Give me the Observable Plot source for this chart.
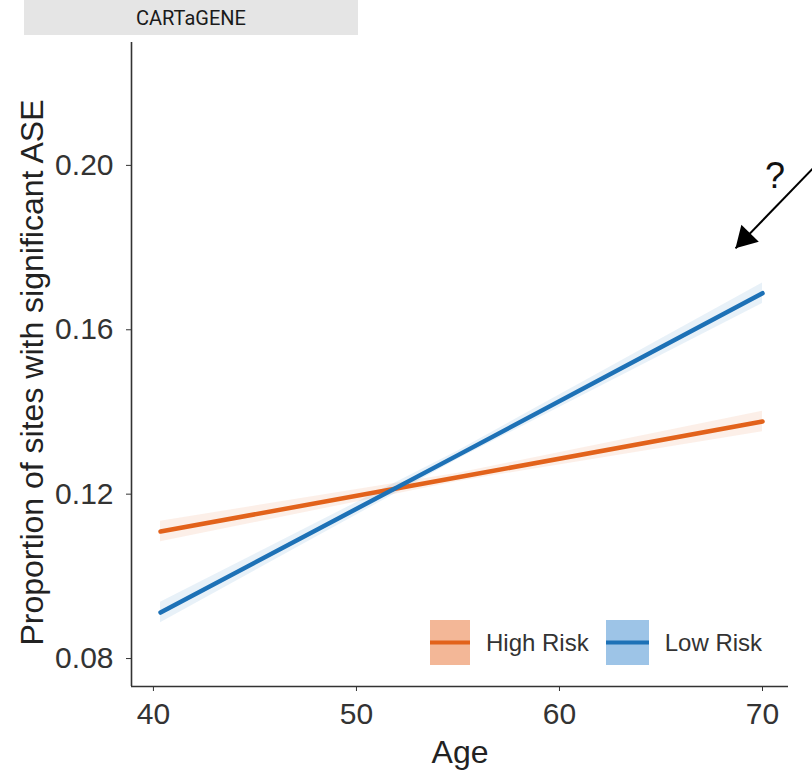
<!DOCTYPE html>
<html>
<head>
<meta charset="utf-8">
<script src="https://cdn.jsdelivr.net/npm/d3@7"></script>
<script src="https://cdn.jsdelivr.net/npm/@observablehq/plot@0.6"></script>
<style>
  body { margin: 0; background: #fff; }
  #wrap { position: relative; width: 812px; height: 770px; overflow: hidden; font-family: "Liberation Sans", Arial, sans-serif; }
  #strip { position: absolute; left: 24px; top: 0; width: 334px; height: 35px; background: #e5e5e5;
           font-family: Roboto, "Liberation Sans", sans-serif; font-size: 20px; color: #1a1a1a;
           display: flex; align-items: center; justify-content: center; }
  #chart { position: absolute; left: 0; top: 40px; }
  #legend { position: absolute; left: 430px; top: 620px; display: flex; align-items: center; font-size: 24px; color: #333; }
  #legend .item { display: flex; align-items: center; margin-right: 17px; }
  #legend svg { margin-right: 16px; }
</style>
</head>
<body>
<div id="wrap">
  <div id="strip">CARTaGENE</div>
  <div id="chart"></div>
  <div id="legend"></div>
</div>
<script>
// ---- data ----
const panelTitle = "CARTaGENE";
const groups = ["High Risk", "Low Risk"];
const groupColors = ["#e2621b", "#1d71b6"];
const groupFills = ["#f3b797", "#9dc4e7"];
const ages = [40.35, 55, 70];
const highRisk = [0.1109, 0.1241, 0.1377];
const lowRisk = [0.0912, 0.1295, 0.1689];
const bandHalf = [0.0025, 0.001, 0.0025];
const xTicks = [40, 50, 60, 70];
const yTicks = [0.08, 0.12, 0.16, 0.20];
const xDomain = [38.92, 71.28];
const yDomain = [0.0732, 0.2299];
const xLabel = "Age";
const yLabel = "Proportion of sites with significant ASE";
// annotation arrow (data coords)
const arrowStart = [72.47, 0.1992];
const arrowEnd = [68.67, 0.1798];
const questionAt = [70.62, 0.1972];

document.getElementById("strip").textContent = panelTitle;

const rows = [];
groups.forEach((g, gi) => {
  const vals = gi === 0 ? highRisk : lowRisk;
  ages.forEach((a, i) => rows.push({group: g, age: a, value: vals[i], lo: vals[i] - bandHalf[i], hi: vals[i] + bandHalf[i]}));
});

const colorScale = {domain: groups, range: groupColors};
const axisColor = "#333";

const plot = Plot.plot({
  width: 812,
  height: 730,
  marginLeft: 131,
  marginRight: 24,
  marginTop: 2,
  marginBottom: 84,
  style: {fontFamily: "'Liberation Sans', Arial, sans-serif", fontSize: "30px", color: "#333", background: "transparent", overflow: "visible"},
  x: {domain: xDomain, ticks: xTicks, tickSize: 5, tickPadding: 11, label: null},
  y: {domain: yDomain, ticks: yTicks, tickSize: 5, tickPadding: 13, tickFormat: d3.format(".2f"), label: null},
  color: colorScale,
  marks: [
    Plot.areaY(rows, {x: "age", y1: "lo", y2: "hi", z: "group", fill: "group", fillOpacity: 0.1}),
    Plot.line(rows, {x: "age", y: "value", z: "group", stroke: "group", strokeWidth: 4.5}),
    Plot.ruleX([xDomain[0]], {stroke: axisColor, strokeWidth: 1.6}),
    Plot.ruleY([yDomain[0]], {stroke: axisColor, strokeWidth: 1.6}),
    Plot.text([xLabel], {frameAnchor: "bottom", dy: 66, fontSize: 32, fill: "#222", lineAnchor: "middle"}),
    Plot.text([yLabel], {frameAnchor: "left", dx: -99, dy: 8, rotate: -90, fontSize: 32, fill: "#222", lineAnchor: "middle", textAnchor: "middle"}),
    Plot.link([{x1: arrowStart[0], y1: arrowStart[1], x2: arrowEnd[0], y2: arrowEnd[1]}],
      {x1: "x1", y1: "y1", x2: "x2", y2: "y2", stroke: "#000", strokeWidth: 2, clip: false}),
    Plot.dot([{x: arrowEnd[0], y: arrowEnd[1]}], {x: "x", y: "y", symbol: "triangle", r: 9, fill: "#000", stroke: "none",
      rotate: 224, dx: 9.7, dy: -10.1}),
    Plot.text(["?"], {x: questionAt[0], y: questionAt[1], fontSize: 36, fill: "#111", fontFamily: "'Liberation Sans', Arial, sans-serif"})
  ]
});
document.getElementById("chart").appendChild(plot);

// legend
const legend = d3.select("#legend");
groups.forEach((g, i) => {
  const w = i === 0 ? 40 : 43;
  const item = legend.append("div").attr("class", "item");
  const svg = item.append("svg").attr("width", w).attr("height", 45);
  svg.append("rect").attr("x", 0).attr("y", 0).attr("width", w).attr("height", 45).attr("fill", groupFills[i]);
  svg.append("line").attr("x1", 0).attr("x2", w).attr("y1", 22.5).attr("y2", 22.5)
     .attr("stroke", groupColors[i]).attr("stroke-width", 4);
  item.append("span").text(g);
});
</script>
</body>
</html>
